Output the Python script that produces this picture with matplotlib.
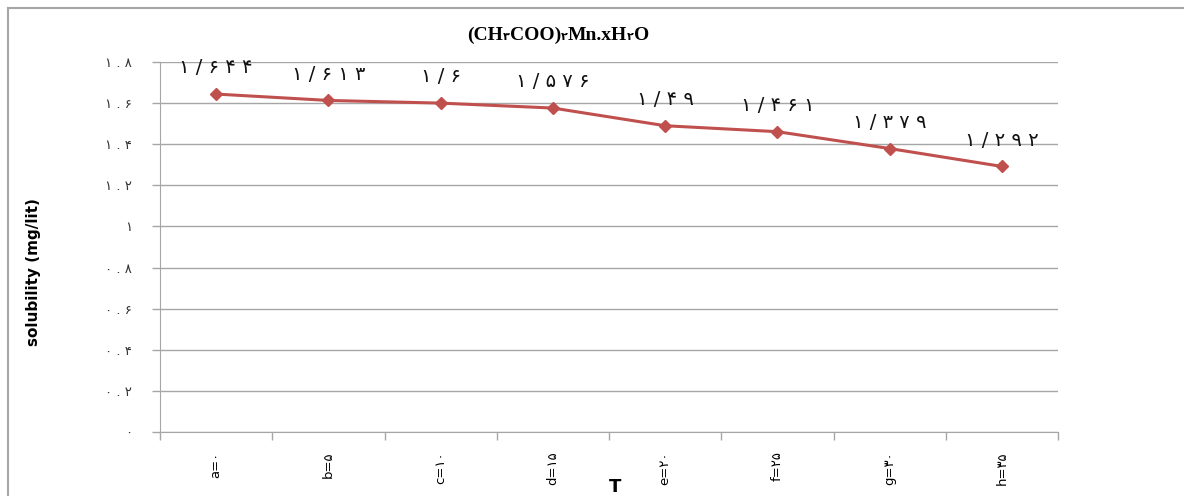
import matplotlib
matplotlib.use("Agg")
import matplotlib.pyplot as plt
from matplotlib.lines import Line2D
import numpy as np

# chart data
categories = ["a=۰", "b=۵", "c=۱۰", "d=۱۵", "e=۲۰", "f=۲۵", "g=۳۰", "h=۳۵"]
solubility = [1.644, 1.613, 1.6, 1.576, 1.49, 1.461, 1.379, 1.292]
point_labels = ["۱/۶۴۴", "۱/۶۱۳", "۱/۶", "۱/۵۷۶", "۱/۴۹", "۱/۴۶۱", "۱/۳۷۹", "۱/۲۹۲"]
yticks = [0, 0.2, 0.4, 0.6, 0.8, 1.0, 1.2, 1.4, 1.6, 1.8]
ytick_labels = ["۰", "۰.۲", "۰.۴", "۰.۶", "۰.۸", "۱", "۱.۲", "۱.۴", "۱.۶", "۱.۸"]
title_parts = [("(CH", False), ("۳", True), ("COO)", False), ("۲", True),
               ("Mn.xH", False), ("۲", True), ("O", False)]

plt.rcParams['font.family'] = ['DejaVu Sans']

W, H = 1184, 496
fig = plt.figure(figsize=(W / 100, H / 100), dpi=100)
ax = fig.add_axes([160/W, 64/H, 898/W, 370/H])

gray = "#a6a6a6"
red = "#c0504d"


def spaced(s, sep="\u2009"):
    # Excel-ish letter spacing on the persian digits
    return sep.join(s)


x = np.arange(len(categories))
ax.plot(x, solubility, color=red, lw=2.2, marker="D", ms=6.5, zorder=3)
for xi, yi, lab in zip(x, solubility, point_labels):
    ax.annotate(spaced(lab, " "), (xi, yi), xytext=(0, 12), textcoords="offset points",
                ha="center", va="bottom", fontsize=14, color="#111111")

ax.set_xlim(-0.5, len(categories) - 0.5)
ax.set_ylim(0, 1.8)
ax.set_yticks(yticks)
ax.set_yticklabels([spaced(t, " ") for t in ytick_labels], fontsize=9.5, color="#333333")
ax.yaxis.grid(True, color=gray, lw=1)
ax.set_axisbelow(True)

# tick marks between categories, labels at centres
ax.set_xticks(np.arange(-0.5, len(categories)), minor=False)
ax.set_xticklabels([])
ax.set_xticks(x, minor=True)
ax.set_xticklabels(categories, minor=True, rotation=90, fontsize=9.5)
ax.tick_params(axis="x", which="minor", length=0, pad=14)
ax.tick_params(axis="x", which="major", length=6, color=gray, width=1)
ax.tick_params(axis="y", length=6, color=gray, width=1, pad=14)

for s in ["top", "right"]:
    ax.spines[s].set_visible(False)
ax.spines["left"].set_color(gray)
ax.spines["bottom"].set_color(gray)

ax.set_ylabel("solubility (mg/lit)", fontsize=11, fontweight="bold")
ax.yaxis.set_label_coords(-119/898, (432 - 272) / 370)

# title, built piece by piece so the digits can be small subscripts
fig.canvas.draw()
renderer = fig.canvas.get_renderer()
pieces = []
total = 0
for txt, small in title_parts:
    t = fig.text(0, 1 - 40/H, txt, ha="left", va="baseline",
                 fontsize=8 if small else 14, fontweight="bold",
                 family=["Liberation Serif", "DejaVu Sans"])
    w = t.get_window_extent(renderer).width
    pieces.append((t, w))
    total += w
xpos = 558 - total / 2
for t, w in pieces:
    t.set_x(xpos / W)
    xpos += w

fig.text(615/W, 1 - 487/H, "T", ha="center", va="center",
         fontsize=13, fontweight="bold")

# chart frame
fig.add_artist(Line2D([8/W, 1], [1 - 8/H, 1 - 8/H], color=gray, lw=1.5))
fig.add_artist(Line2D([8/W, 8/W], [0, 1 - 8/H], color=gray, lw=1.5))

fig.savefig("out.png", dpi=100)
